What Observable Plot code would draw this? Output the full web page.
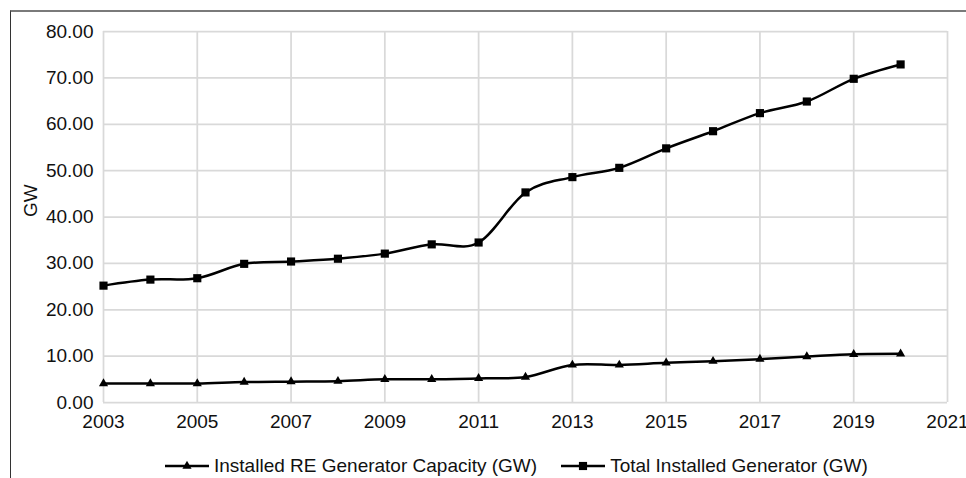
<!DOCTYPE html>
<html>
<head>
<meta charset="utf-8">
<script src="https://cdn.jsdelivr.net/npm/d3@7"></script>
<script src="https://cdn.jsdelivr.net/npm/@observablehq/plot@0.6"></script>
<style>
  html, body { margin: 0; padding: 0; background: #fff; }
  body { width: 966px; height: 478px; position: relative; overflow: hidden; font-family: "Liberation Sans", Arial, sans-serif; }
  #frame { position: absolute; left: 10px; top: 10px; width: 957px; height: 470px;
           border-top: 2px solid #7a7a7a; border-left: 1px solid #333; }
  #chart { position: absolute; left: 1px; top: 0px; }
  #legend { position: absolute; left: 153px; top: 443px; display: flex; align-items: center;
            font-size: 19px; color: #111; white-space: nowrap; }
  #legend .item { display: flex; align-items: center; }
  #legend svg { margin-right: 4px; }
</style>
</head>
<body>
<div id="frame">
  <div id="chart"></div>
  <div id="legend"></div>
</div>
<script>
const years = [2003, 2004, 2005, 2006, 2007, 2008, 2009, 2010, 2011, 2012, 2013, 2014, 2015, 2016, 2017, 2018, 2019, 2020];
const reCapacity = [4.1, 4.1, 4.1, 4.4, 4.5, 4.6, 5.0, 5.0, 5.2, 5.5, 8.1, 8.1, 8.55, 8.9, 9.35, 9.9, 10.4, 10.5];
const totalInstalled = [25.2, 26.5, 26.8, 29.9, 30.4, 31.0, 32.1, 34.1, 34.5, 45.3, 48.6, 50.6, 54.8, 58.5, 62.4, 64.9, 69.8, 72.9];
const seriesNames = ["Installed RE Generator Capacity (GW)", "Total Installed Generator (GW)"];
const xTicks = [2003, 2005, 2007, 2009, 2011, 2013, 2015, 2017, 2019, 2021];
const yTicks = [0, 10, 20, 30, 40, 50, 60, 70, 80];
const yLabel = "GW";

const reData = years.map((y, i) => ({year: y, value: reCapacity[i]}));
const totalData = years.map((y, i) => ({year: y, value: totalInstalled[i]}));

const fontFamily = '"Liberation Sans", Arial, sans-serif';
const chart = Plot.plot({
  width: 956,
  height: 430,
  marginLeft: 91,
  marginRight: 21,
  marginTop: 19,
  marginBottom: 40,
  style: {fontFamily, fontSize: "19px", color: "#111", background: "transparent", overflow: "visible"},
  x: {domain: [2003, 2021], ticks: xTicks, tickFormat: d => String(d), tickSize: 0, tickPadding: 12, label: null},
  y: {domain: [0, 80], ticks: yTicks, tickFormat: d => d.toFixed(2), tickSize: 0, tickPadding: 10, label: null},
  marks: [
    Plot.gridX(xTicks, {stroke: "#d9d9d9", strokeOpacity: 1, strokeWidth: 1.75}),
    Plot.gridY(yTicks, {stroke: "#d9d9d9", strokeOpacity: 1, strokeWidth: 1.75}),
    Plot.line(reData, {x: "year", y: "value", stroke: "#000", strokeWidth: 2.5, curve: "cardinal"}),
    Plot.dot(reData, {x: "year", y: "value", symbol: "triangle", r: 3.4, fill: "#000", stroke: "none"}),
    Plot.line(totalData, {x: "year", y: "value", stroke: "#000", strokeWidth: 2.5, curve: "cardinal"}),
    Plot.dot(totalData, {x: "year", y: "value", symbol: "square", r: 4.6, fill: "#000", stroke: "none"}),
    Plot.text([yLabel], {frameAnchor: "left", dx: -73, rotate: -90, fontSize: 19, fill: "#111"})
  ]
});
document.getElementById("chart").appendChild(chart);

const legend = document.getElementById("legend");
const swatchSymbols = ["triangle", "square"];
seriesNames.forEach((name, i) => {
  const item = document.createElement("div");
  item.className = "item";
  if (i > 0) item.style.marginLeft = "23px";
  const svg = d3.create("svg").attr("width", 46).attr("height", 14);
  svg.append("line").attr("x1", 1).attr("x2", 45).attr("y1", 7).attr("y2", 7)
    .attr("stroke", "#000").attr("stroke-width", 2.5);
  const sym = swatchSymbols[i] === "triangle" ? d3.symbolTriangle : d3.symbolSquare;
  const size = swatchSymbols[i] === "triangle" ? Math.PI * 3.4 * 3.4 : Math.PI * 4.6 * 4.6;
  svg.append("path").attr("transform", "translate(23,7)").attr("d", d3.symbol(sym, size)()).attr("fill", "#000");
  item.appendChild(svg.node());
  const span = document.createElement("span");
  span.textContent = name;
  item.appendChild(span);
  legend.appendChild(item);
});
</script>
</body>
</html>
